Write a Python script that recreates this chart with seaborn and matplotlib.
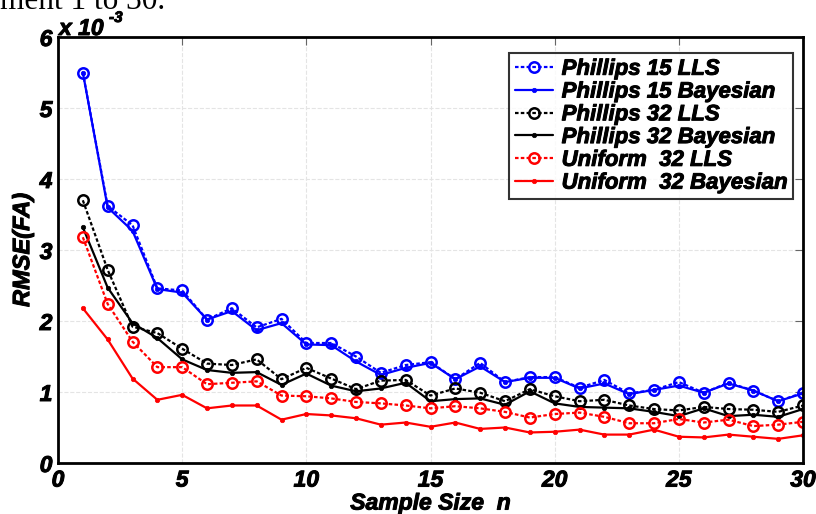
import numpy as np
import pandas as pd
import matplotlib
matplotlib.use("Agg")
import matplotlib.pyplot as plt
import matplotlib.patheffects as pe
import seaborn as sns

n = list(range(1, 31))
phillips15_lls = [5.50, 3.62, 3.35, 2.46, 2.43, 2.02, 2.18, 1.91, 2.03, 1.69, 1.69, 1.50, 1.27, 1.38, 1.42,
                  1.18, 1.41, 1.14, 1.21, 1.21, 1.06, 1.17, 0.98, 1.03, 1.14, 0.99, 1.13, 1.02, 0.87, 0.99]
phillips15_bayes = [5.50, 3.60, 3.27, 2.45, 2.40, 2.02, 2.14, 1.87, 1.97, 1.67, 1.66, 1.43, 1.24, 1.34, 1.41,
                    1.18, 1.36, 1.14, 1.20, 1.20, 1.05, 1.12, 0.97, 1.03, 1.09, 0.99, 1.12, 1.02, 0.87, 0.98]
phillips32_lls = [3.70, 2.72, 1.92, 1.83, 1.61, 1.40, 1.38, 1.46, 1.18, 1.34, 1.19, 1.04, 1.16, 1.17, 0.95,
                  1.05, 0.99, 0.87, 1.04, 0.94, 0.87, 0.89, 0.81, 0.76, 0.74, 0.79, 0.76, 0.75, 0.72, 0.81]
phillips32_bayes = [3.32, 2.47, 1.97, 1.76, 1.46, 1.31, 1.27, 1.28, 1.10, 1.26, 1.09, 1.01, 1.05, 1.13, 0.87,
                    0.90, 0.91, 0.82, 1.01, 0.84, 0.79, 0.78, 0.77, 0.72, 0.66, 0.77, 0.66, 0.68, 0.65, 0.76]
uniform32_lls = [3.18, 2.24, 1.71, 1.35, 1.35, 1.11, 1.13, 1.15, 0.95, 0.94, 0.91, 0.86, 0.84, 0.81, 0.77,
                 0.80, 0.77, 0.72, 0.64, 0.69, 0.71, 0.65, 0.56, 0.56, 0.62, 0.57, 0.61, 0.52, 0.54, 0.58]
uniform32_bayes = [2.18, 1.74, 1.19, 0.89, 0.96, 0.77, 0.81, 0.81, 0.61, 0.69, 0.67, 0.63, 0.54, 0.57, 0.51,
                   0.57, 0.48, 0.50, 0.43, 0.44, 0.47, 0.40, 0.40, 0.47, 0.37, 0.36, 0.40, 0.37, 0.34, 0.39]

labels = ["Phillips 15 LLS", "Phillips 15 Bayesian", "Phillips 32 LLS",
          "Phillips 32 Bayesian", "Uniform  32 LLS", "Uniform  32 Bayesian"]
series = [phillips15_lls, phillips15_bayes, phillips32_lls, phillips32_bayes, uniform32_lls, uniform32_bayes]
colors = ["#0000ff", "#0000ff", "#000000", "#000000", "#ff0000", "#ff0000"]

sns.set_style("white")
plt.rcParams['font.family'] = ['Liberation Sans', 'DejaVu Sans']
plt.rcParams['text.color'] = 'black'
plt.rcParams['axes.labelcolor'] = 'black'

heavy = [pe.withStroke(linewidth=0.7, foreground="black")]

fig = plt.figure(figsize=(8.16, 5.14), dpi=100)
ax = fig.add_axes([58/816, 51/514, 745/816, 426/514])

for lab, vals, col in zip(labels, series, colors):
    if "LLS" in lab:
        sns.lineplot(x=n, y=vals, ax=ax, color=col, linestyle=(0, (1.6, 1.0)), linewidth=1.6,
                     marker="o", markersize=7.5, markerfacecolor="none",
                     markeredgecolor=col, markeredgewidth=1.8, label=lab)
    else:
        sns.lineplot(x=n, y=vals, ax=ax, color=col, linestyle="-", linewidth=1.6,
                     marker="o", markersize=3.2, markerfacecolor=col,
                     markeredgecolor=col, markeredgewidth=0.5, label=lab)

ax.set_xlim(0, 30)
ax.set_ylim(0, 6)
ax.set_xticks([0, 5, 10, 15, 20, 25, 30])
ax.set_yticks([0, 1, 2, 3, 4, 5, 6])
ax.grid(True, linestyle="--", color="#e4e4e4", linewidth=0.8)
ax.tick_params(direction="in", top=True, right=True, length=6, width=0.8, colors="#666666",
               labelcolor="black", labelsize=16.5, pad=4)
for t in ax.get_xticklabels() + ax.get_yticklabels():
    t.set_fontweight("bold")
    t.set_fontstyle("italic")
    t.set_path_effects(heavy)
for s in ax.spines.values():
    s.set_linewidth(2)
    s.set_color("black")

xl = ax.set_xlabel("Sample Size  n", fontsize=16.5, fontweight="bold", fontstyle="italic", labelpad=0)
yl = ax.set_ylabel("RMSE(FA)", fontsize=17, fontweight="bold", fontstyle="italic", labelpad=4)
xl.set_path_effects(heavy)
yl.set_path_effects(heavy)

t1 = fig.text(59/816, 1 - 35/514, "x 10", fontsize=16.5, fontweight="bold", fontstyle="italic", va="baseline")
t2 = fig.text(109/816, 1 - 22/514, "-3", fontsize=11, fontweight="bold", fontstyle="italic", va="baseline")
t1.set_path_effects(heavy)
t2.set_path_effects(heavy)
fig.text(0/816, 1 - 9/514, "ment 1 to 30.", fontsize=22.5, family=["Liberation Serif", "DejaVu Serif"],
         va="baseline")

leg = ax.legend(loc="upper right", bbox_to_anchor=(0.987, 0.962), frameon=True, fancybox=False,
                prop={"size": 16, "weight": "bold", "style": "italic"}, handlelength=1.7,
                handletextpad=0.4, labelspacing=0.08, borderpad=0.25, borderaxespad=0)
leg.get_frame().set_edgecolor("black")
leg.get_frame().set_linewidth(1.5)
for t in leg.get_texts():
    t.set_path_effects(heavy)

fig.savefig("out.png", dpi=100)
